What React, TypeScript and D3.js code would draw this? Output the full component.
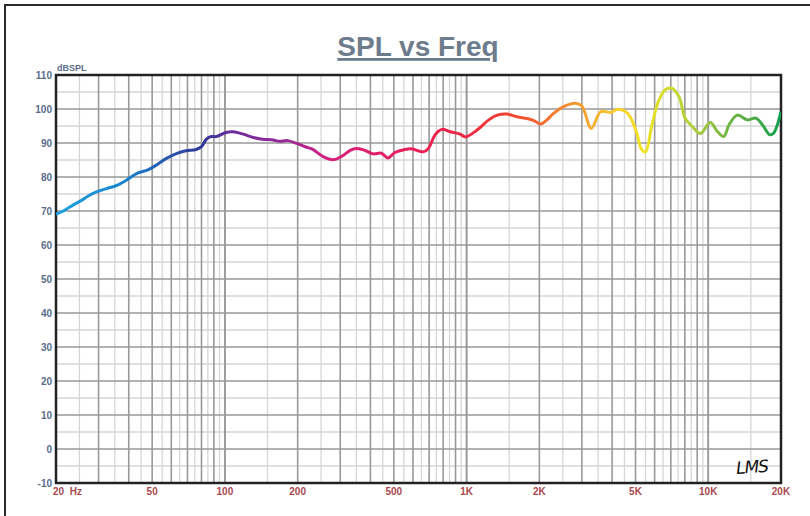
import React from 'react';
import * as d3 from 'd3';

const freqs = [20, 21.8, 23.6, 25.6, 27.2, 29.4, 32.4, 35.6, 39.2, 43.1, 48, 52, 57, 63, 69, 76, 80, 84, 88, 92,
  101, 108, 119, 130, 143, 158, 168, 182, 198, 215, 230, 255, 281, 303, 333, 355, 380, 410, 444, 473,
  505, 555, 592, 662, 695, 741, 790, 856, 940, 990, 1105, 1235, 1340, 1470, 1620, 1780, 1900, 2030, 2150, 2290,
  2520, 2820, 3000, 3280, 3590, 3960, 4220, 4640, 5040, 5290, 5500, 5830, 6210, 6620, 7060, 7570, 8020, 8550, 9270, 10200,
  10880, 11600, 12180, 13200, 14530, 15730, 16780, 17900, 18600, 20000];
const spl = [69.0, 70.3, 71.8, 73.2, 74.4, 75.6, 76.6, 77.5, 79.1, 81.0, 82.1, 83.5, 85.4, 86.9, 87.7, 88.1, 88.9, 91.2, 91.9, 91.9,
  93.1, 93.3, 92.6, 91.7, 91.1, 90.9, 90.5, 90.7, 89.9, 88.9, 88.2, 86.0, 85.1, 86.0, 88.0, 88.4, 87.8, 86.8, 87.0, 85.6,
  87.2, 88.1, 88.3, 87.4, 88.4, 92.4, 94.0, 93.3, 92.6, 91.8, 93.8, 96.8, 98.2, 98.5, 97.7, 97.2, 96.6, 95.6, 96.8, 98.7,
  100.7, 101.7, 100.9, 94.3, 99.2, 99.0, 99.9, 98.7, 93.3, 88.2, 87.4, 94.8, 102.1, 105.6, 106.1, 103.6, 97.3, 95.0, 92.8, 96.0,
  93.5, 91.9, 95.3, 98.2, 96.8, 97.3, 95.3, 92.5, 92.8, 99.2];

const yTicks = [110, 100, 90, 80, 70, 60, 50, 40, 30, 20, 10, 0, -10];
const xTickFreqs = [50, 100, 200, 500, 1000, 2000, 5000, 10000, 20000];
const xTickLabels = ['50', '100', '200', '500', '1K', '2K', '5K', '10K', '20K'];

// rainbow along the frequency axis
const gradFreqs = [20, 40, 60, 80, 105, 180, 270, 600, 1000, 1500, 2100, 3000, 4200, 5300, 7000, 9500, 11500, 15000, 20000];
const gradColors = ['#1ea2e0', '#1a82cc', '#2a52aa', '#30389a', '#6a2c9e', '#9a2a98', '#d6207e', '#ea2058', '#ee2842',
  '#f04232', '#f27030', '#f5a030', '#f8d030', '#f2e222', '#cedb30', '#a0c840', '#78b840', '#50ac44', '#12a050'];

const W = 810, H = 516;
const L = 56, R = 781, T = 75, B = 483;

export default function App() {
  const x = d3.scaleLog().domain([20, 20000]).range([L, R]);
  const y = d3.scaleLinear().domain([-10, 110]).range([B, T]);

  const dark: number[] = [];
  const light: number[] = [];
  [10, 100, 1000, 10000].forEach(dec => {
    for (let k = 1; k <= 10; k++) {
      const f = dec * k;
      if (f >= 20 && f <= 20000) dark.push(f);
      const h = dec * (k + 0.5);
      if (h > 20 && h < 20000 && k < 10) light.push(h);
    }
  });

  const pts = freqs.map((f, i) => [x(f), y(spl[i])] as [number, number]);
  const line = d3.line().curve(d3.curveCatmullRom.alpha(0.5))(pts) || '';

  const labelFont = 'Liberation Sans, Arial, sans-serif';

  return (
    <svg width={W} height={H} style={{ position: 'absolute', left: 0, top: 0, background: '#fff' }}>
      <defs>
        <linearGradient id="rb" gradientUnits="userSpaceOnUse" x1={L} x2={R} y1={0} y2={0}>
          {gradFreqs.map((f, i) => (
            <stop key={i} offset={(x(f) - L) / (R - L)} stopColor={gradColors[i]} />
          ))}
        </linearGradient>
        <clipPath id="plot"><rect x={L} y={T - 2} width={R - L} height={B - T + 4} /></clipPath>
      </defs>
      <rect x={5} y={5} width={W + 20} height={H + 20} fill="none" stroke="#2a2a2a" strokeWidth={2} />

      <text x={418} y={56} textAnchor="middle" fontFamily={labelFont} fontWeight="bold" fontSize={28}
        fill="#6c7c8c" textDecoration="underline">SPL vs Freq</text>

      {/* minor grid */}
      {d3.range(-5, 110, 10).map(v => (
        <line key={'hy' + v} x1={L} x2={R} y1={y(v)} y2={y(v)} stroke="#d6d6d6" strokeWidth={1.3} />
      ))}
      {light.map(f => (
        <line key={'lx' + f} x1={x(f)} x2={x(f)} y1={T} y2={B} stroke="#d6d6d6" strokeWidth={1.3} />
      ))}
      {/* major grid */}
      {yTicks.map(v => (
        <line key={'my' + v} x1={L} x2={R} y1={y(v)} y2={y(v)} stroke="#999" strokeWidth={1.6} />
      ))}
      {dark.map(f => (
        <line key={'dx' + f} x1={x(f)} x2={x(f)} y1={T} y2={B} stroke="#999" strokeWidth={1.6} />
      ))}

      <rect x={L} y={T} width={R - L} height={B - T} fill="none" stroke="#222" strokeWidth={2.5} />

      <path d={line} fill="none" stroke="url(#rb)" strokeWidth={3} strokeLinejoin="round" clipPath="url(#plot)" />

      {yTicks.map(v => (
        <text key={'yt' + v} x={52} y={y(v) + 3.5} textAnchor="end" fontFamily={labelFont} fontWeight="bold"
          fontSize={10} fill="#5a6c8c">{v}</text>
      ))}
      <text x={57} y={71} fontFamily={labelFont} fontWeight="bold" fontSize={9} fill="#5a6c8c">dBSPL</text>

      <text x={53} y={495} fontFamily={labelFont} fontWeight="bold" fontSize={10} fill="#a8484e"
        style={{ whiteSpace: 'pre' }}>{'20  Hz'}</text>
      {xTickFreqs.map((f, i) => (
        <text key={'xt' + f} x={x(f)} y={495} textAnchor="middle" fontFamily={labelFont} fontWeight="bold"
          fontSize={10} fill="#a8484e">{xTickLabels[i]}</text>
      ))}

      <text x={736} y={473} fontFamily="DejaVu Sans, sans-serif" fontStyle="italic" fontSize={17}
        fill="#111" letterSpacing={-1} transform="rotate(-4 750 466)">LMS</text>
    </svg>
  );
}
